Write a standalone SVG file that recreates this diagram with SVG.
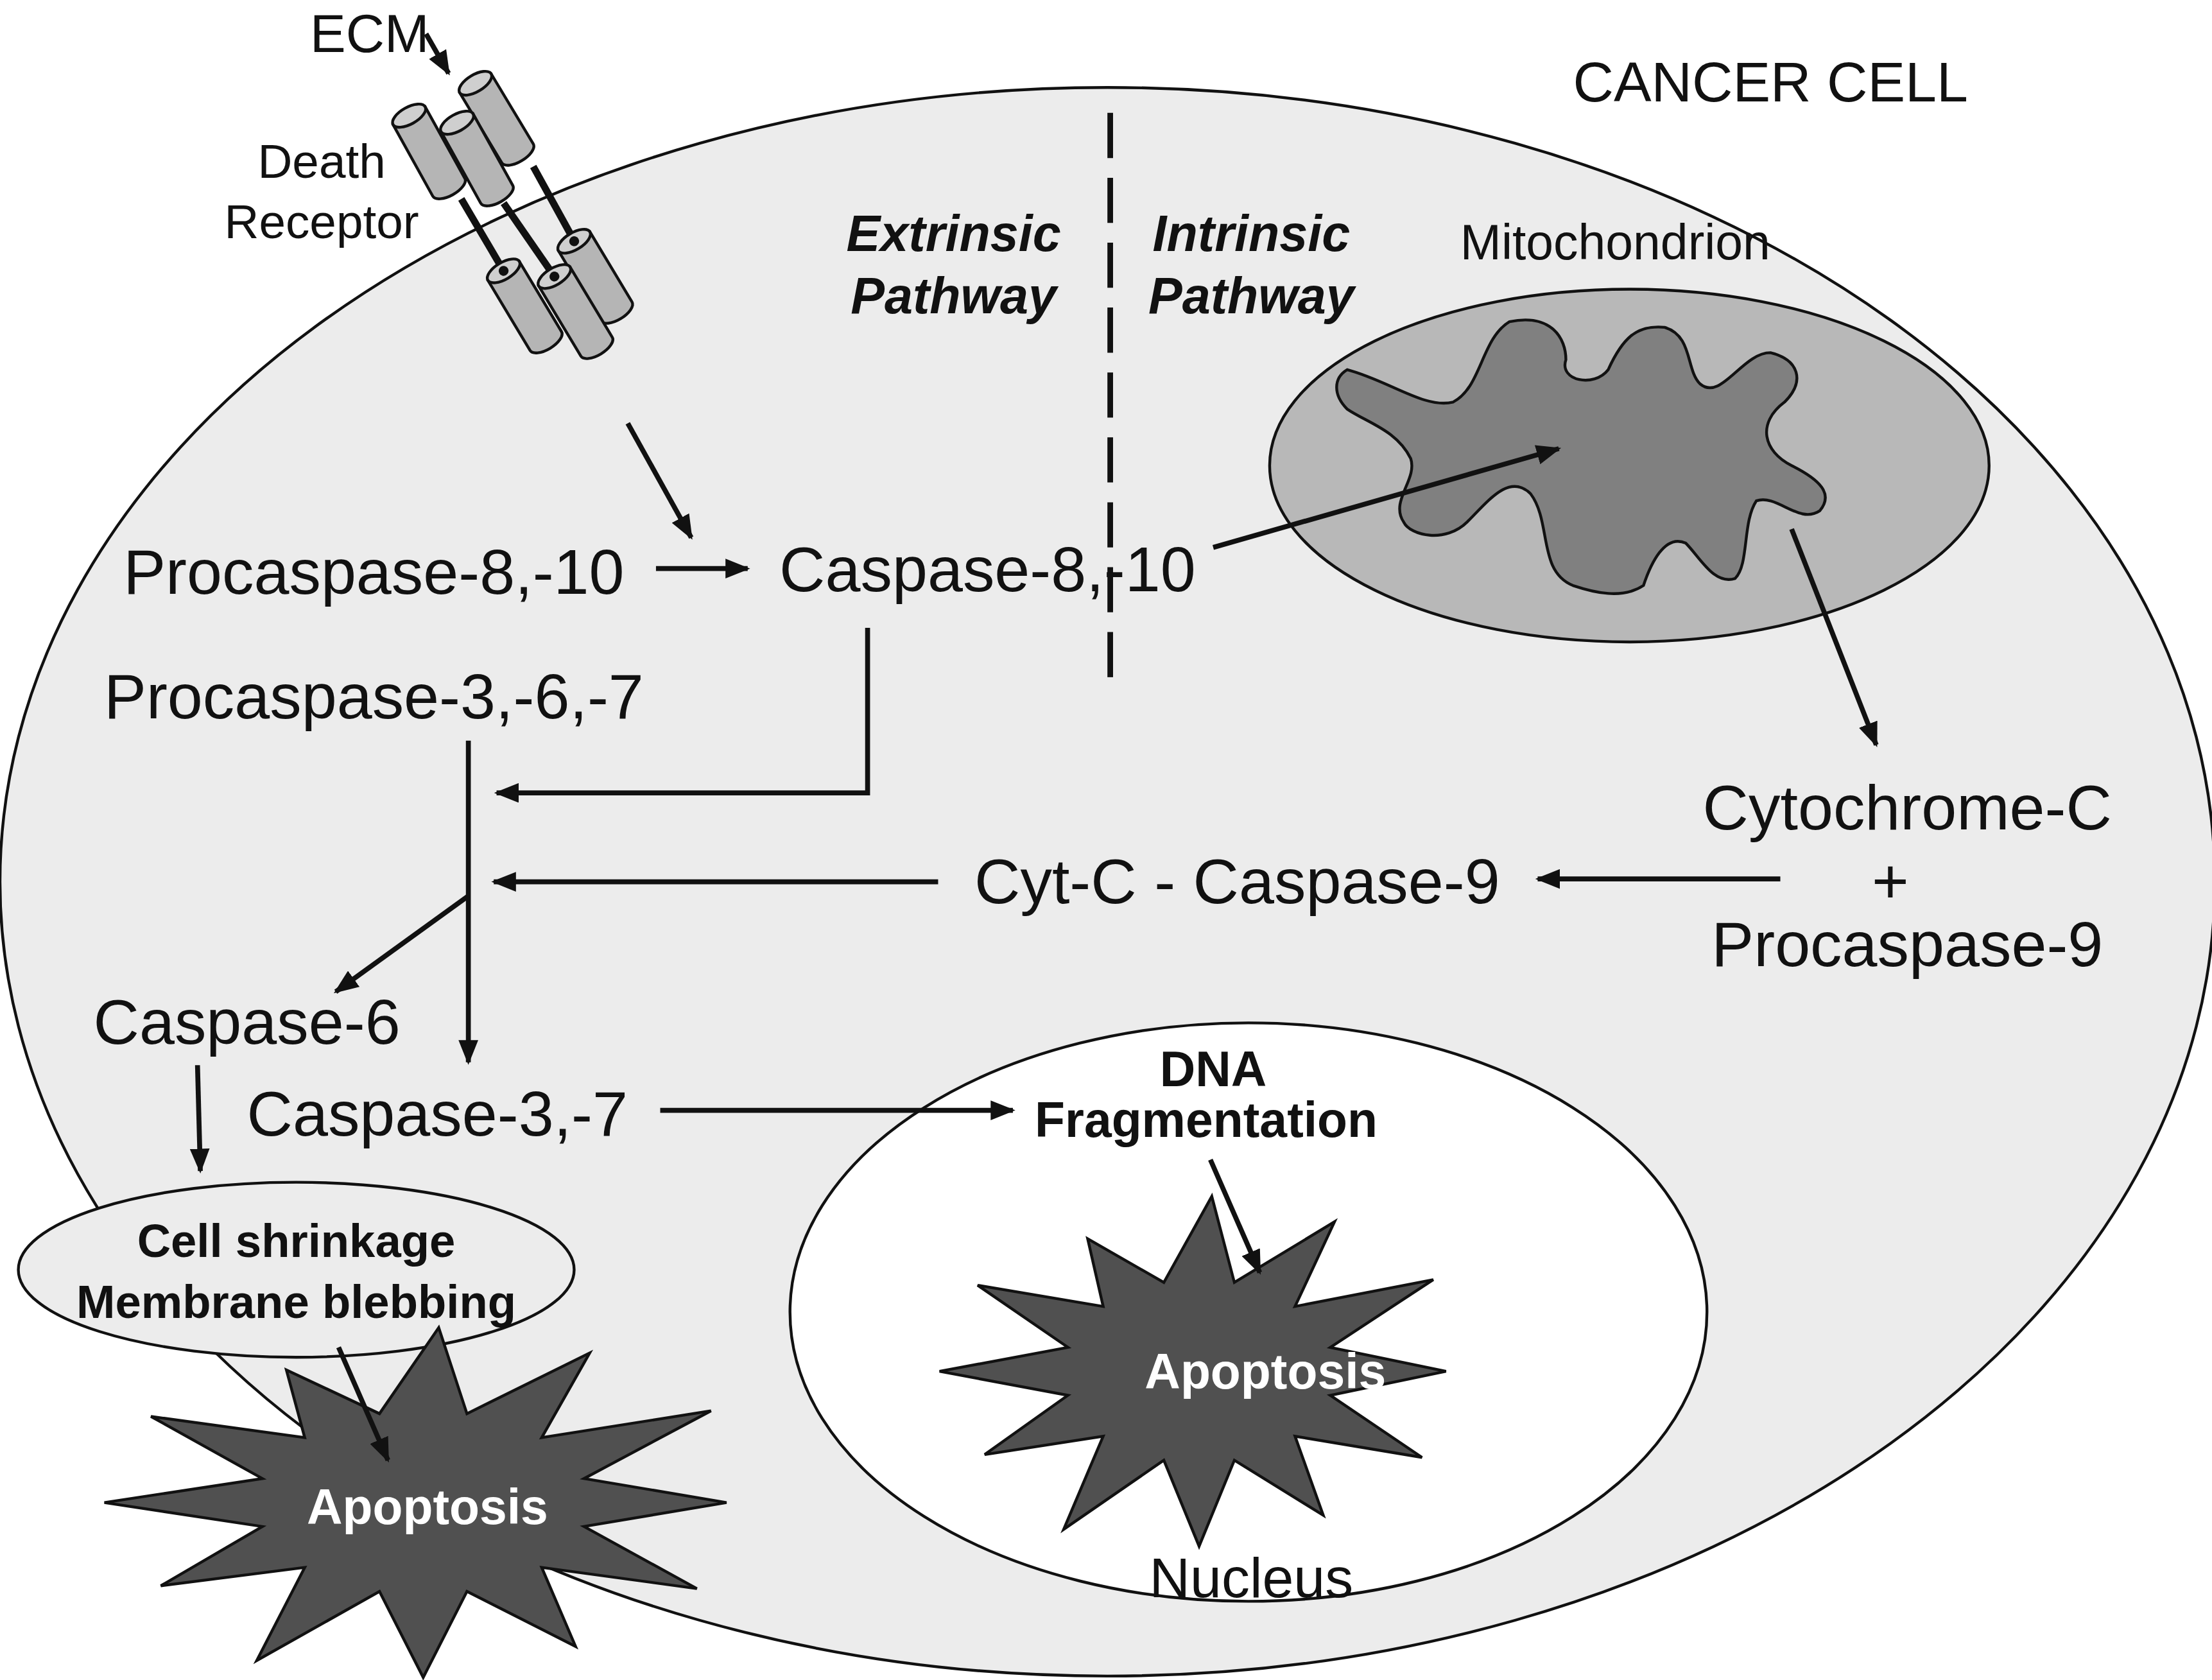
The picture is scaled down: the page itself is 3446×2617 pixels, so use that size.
<svg xmlns="http://www.w3.org/2000/svg" xmlns:xlink="http://www.w3.org/1999/xlink" width="3446" height="2617" viewBox="0 0 3446 2617">
<style>
.t{font-family:"Liberation Sans",Arial,sans-serif;fill:#111;text-anchor:middle}
.big{font-size:45px}
.med{font-size:35px}
.b{font-weight:bold}
.w{fill:#fff}
.ar{fill:none;stroke:#111;stroke-width:3.5;marker-end:url(#ah)}
.ol{stroke:#111;stroke-width:2}
.star{fill:#505050;stroke:#111;stroke-width:2}
</style>
<defs>
<marker id="ah" viewBox="0 0 10 8" refX="9" refY="4" markerWidth="5" markerHeight="4" orient="auto"><path d="M0,0 L10,4 L0,8 Z" fill="#111"/></marker>
<g id="cyl"><path d="M-13,0 L-13,58 A13,6 0 0 0 13,58 L13,0 Z" fill="#b5b5b5" stroke="#111" stroke-width="2"/><ellipse cx="0" cy="0" rx="13" ry="6" fill="#cfcfcf" stroke="#111" stroke-width="2"/></g>
<g id="cyl2"><use xlink:href="#cyl"/><circle cx="0" cy="0" r="3.5" fill="#111"/></g>
</defs>
<rect width="3446" height="2617" fill="#fff"/>
<g transform="scale(2.1977)">
<g id="cell"><ellipse cx="785" cy="625" rx="785" ry="563" fill="#ececec" class="ol"/>
<text class="t" x="1255" y="72" font-size="40">CANCER CELL</text></g>
<g id="receptor">
<use xlink:href="#cyl" transform="translate(337,59) rotate(-31)"/>
<use xlink:href="#cyl" transform="translate(290,82) rotate(-29)"/>
<use xlink:href="#cyl" transform="translate(324,87) rotate(-29)"/>
<line x1="378" y1="118" x2="405" y2="167" stroke="#111" stroke-width="5"/>
<line x1="327" y1="141" x2="357" y2="192" stroke="#111" stroke-width="5"/>
<line x1="357" y1="144" x2="393" y2="196" stroke="#111" stroke-width="5"/>
<use xlink:href="#cyl2" transform="translate(407,171) rotate(-31)"/>
<use xlink:href="#cyl2" transform="translate(357,192) rotate(-31)"/>
<use xlink:href="#cyl2" transform="translate(393,196) rotate(-31)"/>
<text class="t" font-size="34" x="228" y="126">Death</text><text class="t" font-size="34" x="228" y="169">Receptor</text>
<text class="t" x="262" y="37" font-size="38">ECM</text></g>
<g id="divider"><line x1="787" y1="80" x2="787" y2="487" stroke="#111" stroke-width="4" stroke-dasharray="32,14"/>
<text class="t b" font-size="36" font-style="italic" x="676" y="178">Extrinsic</text><text class="t b" font-size="36" font-style="italic" x="676" y="222">Pathway</text>
<text class="t b" font-size="36" font-style="italic" x="887" y="178">Intrinsic</text><text class="t b" font-size="36" font-style="italic" x="887" y="222">Pathway</text></g>
<g id="mito"><ellipse cx="1155" cy="330" rx="255" ry="125" fill="#b8b8b8" class="ol"/>
<path d="M955,262 C985,270 1010,290 1030,285 C1050,275 1050,240 1070,228 C1100,222 1110,240 1110,255 C1105,270 1130,275 1140,262 C1150,240 1160,230 1180,232 C1200,238 1195,262 1205,272 C1220,285 1235,250 1255,250 C1275,255 1280,270 1265,285 C1245,300 1250,320 1270,330 C1290,340 1300,350 1290,362 C1275,372 1260,350 1245,355 C1235,370 1240,400 1230,410 C1215,415 1205,395 1195,385 C1180,378 1170,400 1165,415 C1150,425 1130,420 1115,415 C1090,405 1100,370 1085,350 C1070,335 1055,355 1040,370 C1025,385 1000,380 995,370 C985,355 1005,340 1000,325 C990,305 970,300 955,290 C945,280 945,268 955,262 Z" fill="#808080" class="ol"/>
<text class="t" x="1145" y="184" font-size="35">Mitochondrion</text></g>
<g id="nucleus"><ellipse cx="885" cy="930" rx="325" ry="205" fill="#fff" class="ol"/>
<text class="t" x="887" y="1132" font-size="40">Nucleus</text>
<text class="t med b" x="860" y="770">DNA</text><text class="t med b" x="855" y="806">Fragmentation</text></g>
<g id="apoptosis2"><polygon class="star" points="1025,972 943,989 1008,1033 918,1018 938,1074 875,1035 850,1096 825,1035 754,1084 782,1018 698,1031 757,989 666,972 757,955 693,911 782,926 771,878 825,909 859,848 875,909 946,866 918,926 1016,907 943,955"/>
<text class="t med b w" x="897" y="984">Apoptosis</text></g>
<g id="shrink"><ellipse cx="210" cy="900" rx="197" ry="62" fill="#ececec" class="ol"/>
<text class="t b" font-size="33" x="210" y="891">Cell shrinkage</text><text class="t b" font-size="33" x="210" y="934">Membrane blebbing</text></g>
<g id="apoptosis1"><polygon class="star" points="515,1065 414,1082 494,1126 384,1111 408,1167 331,1128 300,1189 269,1128 182,1177 216,1111 114,1124 186,1082 74,1065 186,1048 107,1004 216,1019 203,971 269,1002 311,941 331,1002 418,959 384,1019 504,1000 414,1048"/>
<text class="t med b w" x="303" y="1080">Apoptosis</text></g>
<g id="labels">
<text class="t big" x="265" y="421">Procaspase-8,-10</text>
<text class="t big" x="700" y="419">Caspase-8,-10</text>
<text class="t big" x="265" y="509">Procaspase-3,-6,-7</text>
<text class="t big" x="877" y="640">Cyt-C - Caspase-9</text>
<text class="t big" x="1352" y="588">Cytochrome-C</text>
<text class="t big" x="1340" y="640">+</text>
<text class="t big" x="1352" y="685">Procaspase-9</text>
<text class="t big" x="175" y="740">Caspase-6</text>
<text class="t big" x="310" y="805">Caspase-3,-7</text>
</g>
<g id="connectors">
<path class="ar" d="M302,24 L318,52"/>
<path class="ar" d="M445,300 L490,381"/>
<path class="ar" d="M465,403 L530,403"/>
<path class="ar" d="M860,388 L1105,318"/>
<path class="ar" d="M1270,375 L1330,528"/>
<path class="ar" d="M615,445 L615,562 L352,562"/>
<path class="ar" d="M332,525 L332,753"/>
<path class="ar" d="M665,625 L350,625"/>
<path class="ar" d="M1262,623 L1090,623"/>
<path class="ar" d="M332,635 L238,703"/>
<path class="ar" d="M140,755 L142,830"/>
<path class="ar" d="M468,787 L718,787"/>
<path class="ar" d="M858,822 L893,902"/>
<path class="ar" d="M240,955 L275,1035"/>
</g>
</g>
</svg>
